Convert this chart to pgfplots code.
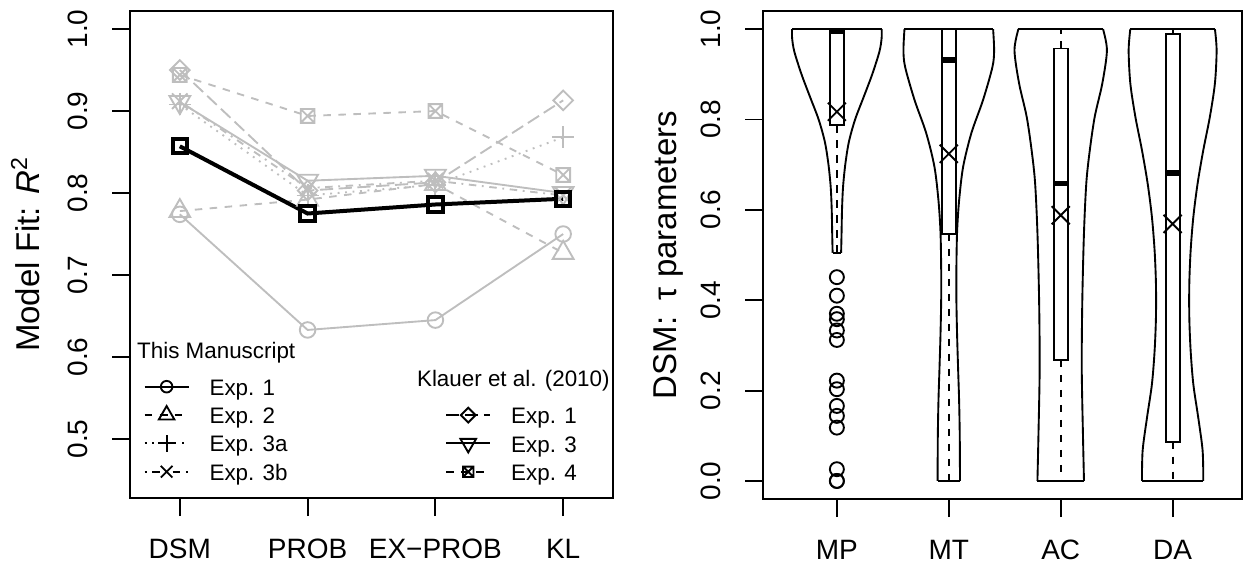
\documentclass[border=0pt]{standalone}
\usepackage{fontspec}
\setmainfont{Liberation Sans}
\usepackage{pgfplots}
\usepackage{pgfplotstable}
\pgfplotsset{compat=1.18}
\usepgfplotslibrary{statistics}

\definecolor{rgray}{HTML}{BEBEBE}

% square with a cross in it (R pch 7)
\pgfdeclareplotmark{sqx}{%
  \pgfpathrectangle{\pgfqpoint{-\pgfplotmarksize}{-\pgfplotmarksize}}{\pgfqpoint{2\pgfplotmarksize}{2\pgfplotmarksize}}%
  \pgfpathmoveto{\pgfqpoint{-\pgfplotmarksize}{-\pgfplotmarksize}}%
  \pgfpathlineto{\pgfqpoint{\pgfplotmarksize}{\pgfplotmarksize}}%
  \pgfpathmoveto{\pgfqpoint{-\pgfplotmarksize}{\pgfplotmarksize}}%
  \pgfpathlineto{\pgfqpoint{\pgfplotmarksize}{-\pgfplotmarksize}}%
  \pgfusepathqstroke}

\tikzset{
  rdashed/.style={dash pattern=on 3.75pt off 3.75pt},
  rdotted/.style={dash pattern=on 0.94pt off 2.8pt},
  rdotdash/.style={dash pattern=on 0.94pt off 2.8pt on 3.75pt off 2.8pt},
  rlongdash/.style={dash pattern=on 6.6pt off 2.8pt},
  gmark/.style={solid, line width=0.94pt},
}

\pgfplotsset{
  rbase/.style={
    scale only axis, anchor=south west,
    axis line style={line width=1pt},
    every tick/.style={black, line width=0.94pt},
    tick align=outside, major tick length=9pt,
    xtick pos=bottom, ytick pos=left,
    ticklabel style={font=\fontsize{14}{16}\selectfont, inner sep=0pt},
    yticklabel style={rotate=90, anchor=south},
    xticklabel style={anchor=north},
    xticklabel shift=11.5pt, yticklabel shift=12pt,
    label style={font=\fontsize{16.5}{19}\selectfont, inner sep=0pt},
    legend cell align=left,
    legend image code/.code={\draw[mark repeat=2,mark phase=2,#1]
      plot coordinates {(0pt,0pt) (11pt,0pt) (22pt,0pt)};},
  },
  rlegend/.style={draw=none, fill=none, inner sep=0pt, row sep=0pt, column sep=10pt,
    font=\fontsize{11.2}{13}\selectfont,
    nodes={inner sep=0pt, text height=11.385pt, text depth=2.785pt}},
  gline/.style={rgray, line width=0.94pt},
  lline/.style={black, line width=0.94pt},
}

% R^2 of each model (DSM, PROB, EX-PROB, KL)
\pgfplotstableread{
x  e1    e2    e3a   e3b   k1    k3    k4    avg
1  0.774 0.778 0.908 0.912 0.950 0.911 0.944 0.857
2  0.633 0.792 0.797 0.806 0.803 0.815 0.894 0.775
3  0.645 0.811 0.810 0.815 0.813 0.821 0.900 0.786
4  0.750 0.727 0.868 0.797 0.913 0.800 0.822 0.793
}\fits

% violin outlines: y and half width
\pgfplotstableread{
y     w
0.505 0.038
0.55  0.042
0.60  0.046
0.65  0.055
0.70  0.075
0.75  0.107
0.80  0.163
0.85  0.240
0.90  0.316
0.95  0.380
0.98  0.400
1.00  0.400
}\vmp
\pgfplotstableread{
y     w
0.00  0.100
0.10  0.098
0.18  0.092
0.25  0.083
0.325 0.074
0.40  0.068
0.47  0.068
0.55  0.074
0.62  0.092
0.695 0.128
0.77  0.202
0.843 0.306
0.916 0.390
0.953 0.405
1.00  0.396
}\vmt
\pgfplotstableread{
y     w
0.00  0.208
0.10  0.199
0.25  0.188
0.40  0.193
0.55  0.208
0.66  0.229
0.73  0.259
0.806 0.304
0.88  0.372
0.953 0.413
1.00  0.378
}\vac
\pgfplotstableread{
y     w
0.00  0.274
0.067 0.268
0.14  0.229
0.214 0.185
0.288 0.161
0.362 0.149
0.436 0.149
0.51  0.161
0.584 0.185
0.658 0.223
0.732 0.274
0.806 0.333
0.88  0.378
0.953 0.393
1.00  0.378
}\vda

\begin{document}
\begin{tikzpicture}
\useasboundingbox (0,0) rectangle (623.5pt,285pt);

% ---------------- left panel ----------------
\begin{axis}[rbase, at={(65pt,36pt)}, width=241.5pt, height=243.5pt,
  xmin=0.61, xmax=4.39, ymin=0.428, ymax=1.022,
  xtick={1,2,3,4}, xticklabels={DSM,PROB,EX−PROB,KL},
  ytick={0.5,0.6,0.7,0.8,0.9,1.0}, yticklabels={0.5,0.6,0.7,0.8,0.9,1.0},
  ylabel={Model Fit: \textit{R}\textsuperscript{2}},
  ylabel style={at={(axis description cs:-0.187,0.5)}, anchor=base},
  legend style={rlegend, at={(0.0275,0.2585)}, anchor=north west},
]
\addplot[gline, rdashed, mark=sqx, mark size=3.45pt, mark options={gmark}, forget plot] table[x=x, y=k4] {\fits};
\addplot[gline, rlongdash, mark=square, mark size=3.47pt, mark options={gmark, rotate=45}, forget plot] table[x=x, y=k1] {\fits};
\addplot[gline, mark=triangle, mark size=6pt, mark options={gmark, rotate=180}, forget plot] table[x=x, y=k3] {\fits};
\addplot[gline, mark=o, mark size=3.9pt, mark options={gmark}, forget plot] table[x=x, y=e1] {\fits};
\addplot[gline, rdashed, mark=triangle, mark size=6pt, mark options={gmark}, forget plot] table[x=x, y=e2] {\fits};
\addplot[gline, rdotted, mark=+, mark size=5.5pt, mark options={gmark}, forget plot] table[x=x, y=e3a] {\fits};
\addplot[gline, rdotdash, mark=x, mark size=5.5pt, mark options={gmark}, forget plot] table[x=x, y=e3b] {\fits};
\addplot[black, line width=2pt, mark=square, mark size=3.6pt, mark options={solid, line width=2pt}, forget plot] table[x=x, y=avg] {\fits};

\addlegendimage{lline, mark=o, mark size=2.9pt, mark options={gmark}}
\addlegendimage{lline, rdashed, mark=triangle, mark size=4.5pt, mark options={gmark}}
\addlegendimage{lline, rdotted, mark=+, mark size=4.1pt, mark options={gmark}}
\addlegendimage{lline, rdotdash, mark=x, mark size=4.1pt, mark options={gmark}}
\legend{Exp. 1, Exp. 2, Exp. 3a, Exp. 3b}
\node[anchor=base west, font=\fontsize{11.2}{13}\selectfont, inner sep=0pt] at (rel axis cs:0.014,0.286) {This Manuscript};
\node[anchor=base west, font=\fontsize{11.2}{13}\selectfont, inner sep=0pt] at (rel axis cs:0.5935,0.2288) {Klauer et al. (2010)};
\end{axis}

% second legend of the left panel
\begin{axis}[rbase, hide axis, at={(65pt,36pt)}, width=241.5pt, height=243.5pt,
  xmin=0.61, xmax=4.39, ymin=0.428, ymax=1.022,
  legend style={rlegend, at={(0.652,0.2002)}, anchor=north west},
]
\addplot[draw=none, forget plot] coordinates {(1,0.5)};
\addlegendimage{lline, rlongdash, mark=square, mark size=2.6pt, mark options={gmark, rotate=45}}
\addlegendimage{lline, mark=triangle, mark size=4.5pt, mark options={gmark, rotate=180}}
\addlegendimage{lline, rdashed, mark=sqx, mark size=2.6pt, mark options={gmark}}
\legend{Exp. 1, Exp. 3, Exp. 4}
\end{axis}

% ---------------- right panel ----------------
\begin{axis}[rbase, at={(381.5pt,35.5pt)}, width=239.5pt, height=244pt,
  xmin=0.34, xmax=4.62, ymin=-0.04, ymax=1.04,
  xtick={1,2,3,4}, xticklabels={MP,MT,AC,DA},
  ytick={0,0.2,0.4,0.6,0.8,1.0}, yticklabels={0.0,0.2,0.4,0.6,0.8,1.0},
  ylabel={DSM:\enspace τ parameters},
  ylabel style={at={(axis description cs:-0.18,0.5)}, anchor=base},
  boxplot/draw direction=y,
  boxplot/every box/.style={draw=black, fill=white, line width=0.94pt},
  boxplot/every whisker/.style={black, line width=0.94pt, rdashed},
  boxplot/every median/.style={black, line width=2.8pt},
  vio/.style={black, line width=0.94pt, smooth},
  flat/.style={black, line width=0.94pt},
]
% violins
\addplot[vio] table[x expr=1+\thisrow{w}, y=y] {\vmp};
\addplot[vio] table[x expr=1-\thisrow{w}, y=y] {\vmp};
\addplot[flat] coordinates {(0.600,1) (1.400,1)};
\addplot[flat] coordinates {(0.962,0.505) (1.038,0.505)};
\addplot[vio] table[x expr=2+\thisrow{w}, y=y] {\vmt};
\addplot[vio] table[x expr=2-\thisrow{w}, y=y] {\vmt};
\addplot[flat] coordinates {(1.604,1) (2.396,1)};
\addplot[flat] coordinates {(1.900,0) (2.100,0)};
\addplot[vio] table[x expr=3+\thisrow{w}, y=y] {\vac};
\addplot[vio] table[x expr=3-\thisrow{w}, y=y] {\vac};
\addplot[flat] coordinates {(2.622,1) (3.378,1)};
\addplot[flat] coordinates {(2.792,0) (3.208,0)};
\addplot[vio] table[x expr=4+\thisrow{w}, y=y] {\vda};
\addplot[vio] table[x expr=4-\thisrow{w}, y=y] {\vda};
\addplot[flat] coordinates {(3.622,1) (4.378,1)};
\addplot[flat] coordinates {(3.726,0) (4.274,0)};

% boxes
\addplot[black, boxplot prepared={draw position=1, lower whisker=0.505, lower quartile=0.787,
  median=0.995, upper quartile=1.0, upper whisker=1.0, box extend=0.125, whisker extend=0}] coordinates {};
\addplot[black, boxplot prepared={draw position=2, lower whisker=0, lower quartile=0.547,
  median=0.931, upper quartile=1.0, upper whisker=1.0, box extend=0.125, whisker extend=0}] coordinates {};
\addplot[black, boxplot prepared={draw position=3, lower whisker=0, lower quartile=0.268,
  median=0.658, upper quartile=0.957, upper whisker=1.0, box extend=0.125, whisker extend=0}] coordinates {};
\addplot[black, boxplot prepared={draw position=4, lower whisker=0, lower quartile=0.087,
  median=0.681, upper quartile=0.990, upper whisker=1.0, box extend=0.125, whisker extend=0}] coordinates {};

% means
\addplot[black, only marks, mark=x, mark size=6.4pt, mark options={line width=0.94pt}]
  coordinates {(1,0.817) (2,0.724) (3,0.588) (4,0.569)};
% outliers of MP
\addplot[black, only marks, mark=o, mark size=3.5pt, mark options={line width=0.94pt}]
  coordinates {(1,0.451) (1,0.410) (1,0.370) (1,0.358) (1,0.333) (1,0.312) (1,0.222)
  (1,0.203) (1,0.166) (1,0.144) (1,0.118) (1,0.026) (1,0.0) (1,0.0)};
\end{axis}
\end{tikzpicture}
\end{document}
